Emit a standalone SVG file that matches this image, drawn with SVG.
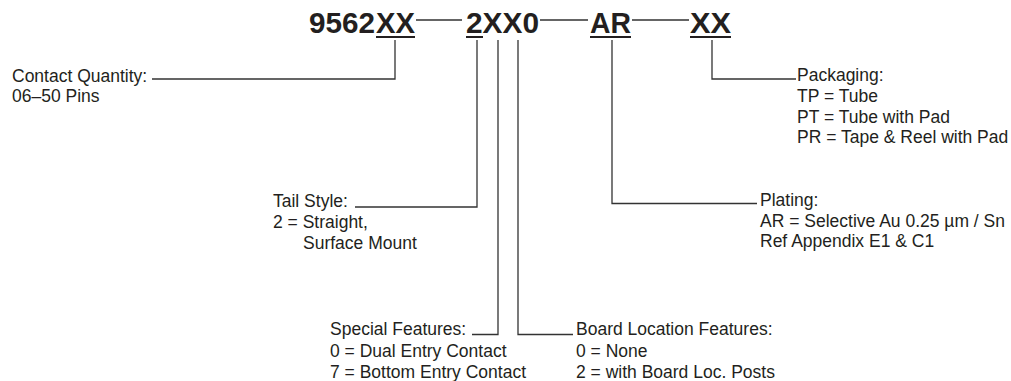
<svg xmlns="http://www.w3.org/2000/svg" width="1011" height="381" viewBox="0 0 1011 381">
<style>
.t{font-family:"Liberation Sans",Arial,sans-serif;font-size:17.5px;fill:#231f20}
.h{font-family:"Liberation Sans",Arial,sans-serif;font-size:29px;font-weight:bold;fill:#231f20}
.c{stroke:#333;stroke-width:1.3;fill:none}
.u{stroke:#231f20;stroke-width:2;fill:none}
</style>
<rect width="1011" height="381" fill="#fff"/>
<g id="title">
<text class="h" x="309" y="33" textLength="66" lengthAdjust="spacingAndGlyphs">9562</text>
<text class="h" x="376" y="33" textLength="39" lengthAdjust="spacingAndGlyphs">XX</text>
<text class="h" x="466" y="33" textLength="73" lengthAdjust="spacingAndGlyphs">2XX0</text>
<text class="h" x="590" y="33" textLength="41" lengthAdjust="spacingAndGlyphs">AR</text>
<text class="h" x="690" y="33" textLength="41" lengthAdjust="spacingAndGlyphs">XX</text>
<path class="u" d="M376 37H415M466 37H483M590 37H631M690 37H731"/>
<path class="c" d="M416 20H462M540 20H588M632 20H689"/>
</g>
<g id="connectors">
<path class="c" d="M395 40V79H152"/>
<path class="c" d="M477 40V207H355"/>
<path class="c" d="M498 40V334.5H472"/>
<path class="c" d="M518 40V334.5H573"/>
<path class="c" d="M612 40V203.5H757"/>
<path class="c" d="M712 40V79H796"/>
</g>
<g id="contact-quantity">
<text class="t" x="12" y="82">Contact Quantity:</text>
<text class="t" x="12" y="102">06–50 Pins</text>
</g>
<g id="tail-style">
<text class="t" x="273" y="207">Tail Style:</text>
<text class="t" x="273" y="228">2 = Straight,</text>
<text class="t" x="303" y="248.5">Surface Mount</text>
</g>
<g id="special-features">
<text class="t" x="330" y="335">Special Features:</text>
<text class="t" x="330" y="356.5">0 = Dual Entry Contact</text>
<text class="t" x="330" y="377.5">7 = Bottom Entry Contact</text>
</g>
<g id="board-location">
<text class="t" x="576" y="335">Board Location Features:</text>
<text class="t" x="576" y="356.5">0 = None</text>
<text class="t" x="576" y="377.5">2 = with Board Loc. Posts</text>
</g>
<g id="plating">
<text class="t" x="760" y="206">Plating:</text>
<text class="t" x="760" y="226.7">AR = Selective Au 0.25 µm / Sn</text>
<text class="t" x="760" y="247.3">Ref Appendix E1 &amp; C1</text>
</g>
<g id="packaging">
<text class="t" x="797" y="81">Packaging:</text>
<text class="t" x="797" y="101.7">TP = Tube</text>
<text class="t" x="797" y="122.5">PT = Tube with Pad</text>
<text class="t" x="797" y="143.3">PR = Tape &amp; Reel with Pad</text>
</g>
</svg>
